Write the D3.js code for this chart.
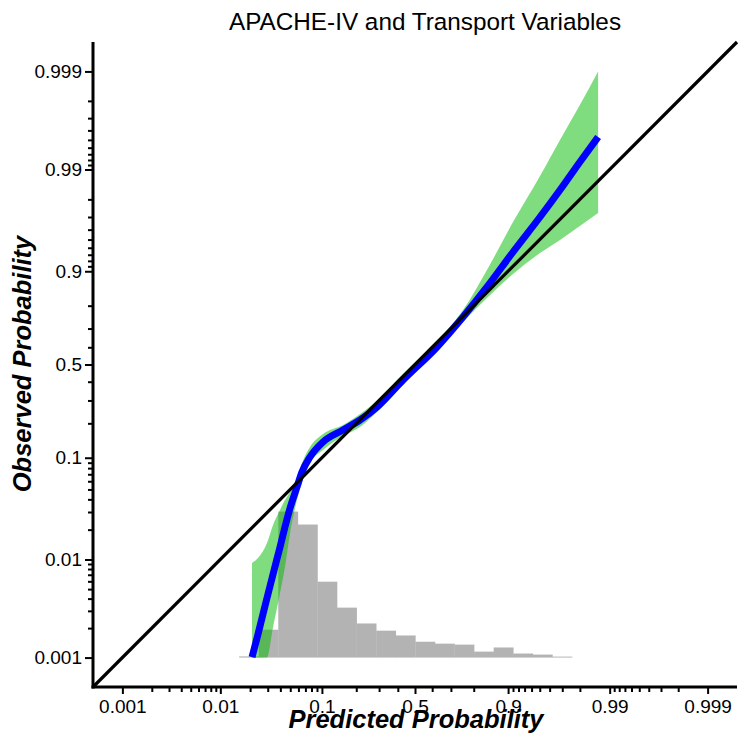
<!DOCTYPE html>
<html>
<head>
<meta charset="utf-8">
<script src="https://cdn.jsdelivr.net/npm/d3@7"></script>
<style>
body { margin: 0; background: #fff; }
text { font-family: "Liberation Sans", Arial, Helvetica, sans-serif; }
</style>
</head>
<body>
<div id="chart"></div>
<script>
// calibration curve (predicted vs observed probability)
var predicted = [0.0209, 0.0240, 0.0295, 0.0339, 0.0397, 0.0444, 0.0498, 0.0581, 0.0649, 0.0774,
  0.1024, 0.1546, 0.2145, 0.2897, 0.4297, 0.627, 0.7564, 0.8454, 0.910, 0.9503, 0.9684, 0.9800, 0.9869];
var observed = [0.00101, 0.00174, 0.00406, 0.00712, 0.01337, 0.02125, 0.03286, 0.0528, 0.0735, 0.1016,
  0.1386, 0.1760, 0.2128, 0.2685, 0.4097, 0.6016, 0.7538, 0.8614, 0.9341, 0.9700, 0.9839, 0.99162, 0.99533];
// confidence band (clipped at 0.001 / 0.999)
var lower = [0.001, 0.001, 0.001, 0.00205, 0.00456, 0.00838, 0.0185, 0.0394, 0.0590, 0.0894,
  0.1176, 0.1565, 0.1865, 0.2462, 0.3815, 0.5847, 0.7314, 0.8274, 0.8941, 0.9326, 0.9495, 0.9632, 0.9727];
var upper = [0.00921, 0.01035, 0.01466, 0.0223, 0.0314, 0.0394, 0.0472, 0.0645, 0.0894, 0.1252,
  0.1628, 0.1937, 0.2375, 0.2973, 0.4442, 0.635, 0.7831, 0.9027, 0.9663, 0.98838, 0.99500, 0.99780, 0.999];

// histogram of predicted probabilities (bins equal width on the logit axis)
var histRange = [0.0155, 0.976];
var histCounts = [12, 290, 1520, 1385, 790, 520, 355, 280, 230, 165, 145, 135, 62, 105, 42, 31, 10];

var tickValues = [0.001, 0.01, 0.1, 0.5, 0.9, 0.99, 0.999];
var tickLabels = ["0.001", "0.01", "0.1", "0.5", "0.9", "0.99", "0.999"];
var minorTicks = [0.002, 0.003, 0.004, 0.005, 0.006, 0.007, 0.008, 0.009,
  0.02, 0.03, 0.04, 0.05, 0.06, 0.07, 0.08, 0.09,
  0.2, 0.3, 0.4, 0.6, 0.7, 0.8,
  0.91, 0.92, 0.93, 0.94, 0.95, 0.96, 0.97, 0.98,
  0.991, 0.992, 0.993, 0.994, 0.995, 0.996, 0.997, 0.998];

var width = 751, height = 747;
var domain = [0.0005, 0.9995];
var plotL = 93, plotR = 737, plotT = 42, plotB = 687;

function logit(p) { return Math.log(p / (1 - p)); }

var xl = d3.scaleLinear().domain(domain.map(logit)).range([plotL, plotR]);
var yl = d3.scaleLinear().domain(domain.map(logit)).range([plotB, plotT]);
function sx(p) { return xl(logit(p)); }
function sy(p) { return yl(logit(p)); }

var svg = d3.select("#chart").append("svg")
  .attr("width", width)
  .attr("height", height);

// histogram
var nb = histCounts.length;
var lo = logit(histRange[0]), hi = logit(histRange[1]);
var bw = (hi - lo) / nb;
var hScale = d3.scaleLinear().domain([0, d3.max(histCounts)]).range([0, 146]);
var base = sy(0.001);
svg.append("g").selectAll("rect")
  .data(histCounts)
  .enter().append("rect")
  .attr("x", (d, i) => xl(lo + i * bw))
  .attr("width", (d, i) => xl(lo + (i + 1) * bw) - xl(lo + i * bw) + 0.3)
  .attr("y", d => base - hScale(d))
  .attr("height", d => hScale(d))
  .attr("fill", "#b3b3b3");

// confidence band
var rows = predicted.map((p, i) => ({p: p, o: observed[i], lo: lower[i], hi: upper[i]}));
var area = d3.area()
  .x(d => sx(d.p))
  .y0(d => sy(d.lo))
  .y1(d => sy(d.hi))
  .curve(d3.curveMonotoneX);
svg.append("path")
  .datum(rows)
  .attr("d", area)
  .attr("fill", "rgb(0,185,0)")
  .attr("fill-opacity", 0.5);

// calibration curve
var line = d3.line()
  .x(d => sx(d.p))
  .y(d => sy(d.o))
  .curve(d3.curveMonotoneX);
svg.append("path")
  .datum(rows)
  .attr("d", line)
  .attr("fill", "none")
  .attr("stroke", "#0000ff")
  .attr("stroke-width", 7);

// identity line
svg.append("line")
  .attr("x1", sx(domain[0])).attr("y1", sy(domain[0]))
  .attr("x2", sx(domain[1])).attr("y2", sy(domain[1]))
  .attr("stroke", "#000")
  .attr("stroke-width", 3.2);

// axes
function styleAxis(g) {
  g.select(".domain").remove();
  g.selectAll(".tick line").attr("stroke", "#000").attr("stroke-width", 2);
  g.selectAll(".tick text").attr("font-size", 19).attr("fill", "#000")
    .style("font-family", "'Liberation Sans', Arial, sans-serif");
}

var xAxis = svg.append("g").attr("transform", "translate(0," + plotB + ")")
  .call(d3.axisBottom(xl).tickValues(tickValues.map(logit))
    .tickFormat((d, i) => tickLabels[i]).tickSize(7).tickPadding(6));
styleAxis(xAxis);
var xMinor = svg.append("g").attr("transform", "translate(0," + plotB + ")")
  .call(d3.axisBottom(xl).tickValues(minorTicks.map(logit)).tickFormat("").tickSize(5));
styleAxis(xMinor);

var yAxis = svg.append("g").attr("transform", "translate(" + plotL + ",0)")
  .call(d3.axisLeft(yl).tickValues(tickValues.map(logit))
    .tickFormat((d, i) => tickLabels[i]).tickSize(8).tickPadding(3));
styleAxis(yAxis);
var yMinor = svg.append("g").attr("transform", "translate(" + plotL + ",0)")
  .call(d3.axisLeft(yl).tickValues(minorTicks.map(logit)).tickFormat("").tickSize(5));
styleAxis(yMinor);

// axis lines
svg.append("line").attr("x1", plotL).attr("x2", plotL).attr("y1", plotT).attr("y2", plotB + 1.5)
  .attr("stroke", "#000").attr("stroke-width", 3);
svg.append("line").attr("x1", plotL - 1.5).attr("x2", plotR).attr("y1", plotB).attr("y2", plotB)
  .attr("stroke", "#000").attr("stroke-width", 3);

// titles
svg.append("text")
  .attr("x", 425).attr("y", 30)
  .attr("text-anchor", "middle")
  .attr("font-size", 24.3)
  .text("APACHE-IV and Transport Variables");

svg.append("text")
  .attr("x", 416).attr("y", 728)
  .attr("text-anchor", "middle")
  .attr("font-size", 25.5)
  .attr("font-weight", "bold")
  .attr("font-style", "italic")
  .text("Predicted Probability");

svg.append("text")
  .attr("transform", "translate(31,364) rotate(-90)")
  .attr("text-anchor", "middle")
  .attr("font-size", 25.5)
  .attr("font-weight", "bold")
  .attr("font-style", "italic")
  .text("Observed Probability");
</script>
</body>
</html>
